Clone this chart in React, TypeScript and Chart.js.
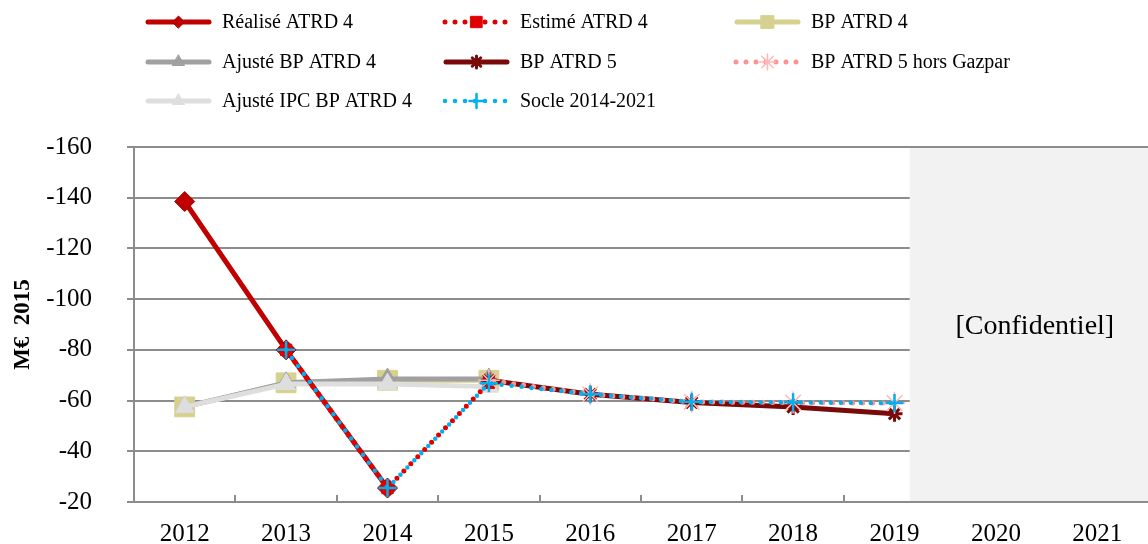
import React, { useEffect, useRef } from 'react';
import { Chart, registerables } from 'chart.js';
import { drawPoint } from 'chart.js/helpers';

Chart.register(...registerables);

const years = ['2012', '2013', '2014', '2015', '2016', '2017', '2018', '2019', '2020', '2021'];

const realiseAtrd4 = [-138.5, -80, -25.5, null, null, null, null, null, null, null];
const estimeAtrd4 = [null, -80, -25.5, -67, null, null, null, null, null, null];
const bpAtrd4 = [-57.5, -67, -68, -68, null, null, null, null, null, null];
const ajusteBpAtrd4 = [-57.5, -67, -68.5, -68.5, null, null, null, null, null, null];
const ajusteIpcBpAtrd4 = [-57.5, -66.5, -66.5, -65.5, null, null, null, null, null, null];
const bpAtrd5 = [null, null, null, -68, -62.5, -59.2, -57.5, -54.8, null, null];
const bpAtrd5HorsGazpar = [null, null, null, -68, -62.5, -59.5, -59.2, -59, null, null];
const socle20142021 = [null, -80, -25.5, -66.8, -62.5, -59.5, -59.3, -59, null, null];

const seriesLabels = [
  'Réalisé ATRD 4',
  'Estimé ATRD 4',
  'BP ATRD 4',
  'Ajusté BP ATRD 4',
  'BP ATRD 5',
  'BP ATRD 5 hors Gazpar',
  'Ajusté IPC BP ATRD 4',
  'Socle 2014-2021',
];

const yMin = -160;
const yMax = -20;
const yStep = 20;
const yAxisTitle = 'M€  2015';
const confidentialText = '[Confidentiel]';
const confidentialFromIndex = 7; // category after which the hidden zone begins

const FONT = "'Liberation Serif', 'Times New Roman', serif";
const GRID = '#8C8C8C';

const legendPlugin = {
  id: 'gridLegend',
  afterDraw(chart: any) {
    const ctx = chart.ctx;
    const colX = [145, 443, 734];
    const rowY = [22, 62, 101];
    const sampleLen = 67;
    chart.data.datasets.forEach((ds: any, i: number) => {
      const col = i % 3;
      const row = Math.floor(i / 3);
      const x = colX[col];
      const y = rowY[row];
      ctx.save();
      ctx.strokeStyle = ds.borderColor;
      ctx.lineWidth = ds.borderWidth;
      ctx.lineCap = 'round';
      ctx.setLineDash(ds.borderDash || []);
      ctx.beginPath();
      if (ds.borderDash && ds.borderDash.length) {
        ctx.moveTo(x + 2, y);
        ctx.lineTo(x + sampleLen, y);
      } else {
        ctx.moveTo(x + 3, y);
        ctx.lineTo(x + sampleLen - 3, y);
      }
      ctx.stroke();
      ctx.setLineDash([]);
      ctx.fillStyle = ds.pointBackgroundColor;
      ctx.strokeStyle = ds.pointBorderColor;
      ctx.lineWidth = ds.pointBorderWidth;
      drawPoint(ctx, {
        pointStyle: ds.pointStyle,
        radius: ds.legendPointRadius,
        rotation: 0,
        borderWidth: ds.pointBorderWidth,
      } as any, x + sampleLen / 2, y);
      ctx.fillStyle = '#000';
      ctx.font = `20px ${FONT}`;
      ctx.textBaseline = 'middle';
      ctx.textAlign = 'left';
      ctx.fillText(ds.label, x + 77, y + 1);
      ctx.restore();
    });
  },
};

const zonePlugin = {
  id: 'zoneAndTicks',
  beforeDatasetsDraw(chart: any) {
    const ctx = chart.ctx;
    const xs = chart.scales.x;
    const area = chart.chartArea;
    const catW = xs.getPixelForValue(1) - xs.getPixelForValue(0);
    ctx.save();
    // inner tick marks between categories
    ctx.strokeStyle = GRID;
    ctx.lineWidth = 2;
    for (let i = 1; i < years.length; i++) {
      const px = Math.round(xs.getPixelForValue(i) - catW / 2);
      ctx.beginPath();
      ctx.moveTo(px, area.bottom - 7);
      ctx.lineTo(px, area.bottom);
      ctx.stroke();
    }
    // hidden zone
    const x0 = xs.getPixelForValue(confidentialFromIndex) + catW * 0.15;
    ctx.fillStyle = '#F2F2F2';
    ctx.fillRect(x0, area.top + 1, area.right - x0, area.bottom - area.top - 2);
    ctx.fillStyle = '#000';
    ctx.font = `28px ${FONT}`;
    ctx.textAlign = 'center';
    ctx.textBaseline = 'middle';
    ctx.fillText(confidentialText, (x0 + area.right) / 2 + 6, (area.top + area.bottom) / 2 + 2);
    ctx.restore();
  },
};

export default function App() {
  const canvasRef = useRef<HTMLCanvasElement | null>(null);

  useEffect(() => {
    if (!canvasRef.current) return;
    const dotted = [0, 10];
    const chart = new Chart(canvasRef.current, {
      type: 'line',
      data: {
        labels: years,
        datasets: [
          {
            label: seriesLabels[0],
            data: realiseAtrd4,
            borderColor: '#C00000',
            borderWidth: 5,
            pointStyle: 'rectRot',
            pointRadius: 10,
            legendPointRadius: 6,
            pointBackgroundColor: '#C00000',
            pointBorderColor: '#A00000',
            pointBorderWidth: 1,
            order: 5,
          },
          {
            label: seriesLabels[1],
            data: estimeAtrd4,
            borderColor: '#E00000',
            borderWidth: 5,
            borderDash: dotted,
            borderDashOffset: 5,
            borderCapStyle: 'round',
            pointStyle: 'rect',
            pointRadius: 8,
            legendPointRadius: 8,
            pointBackgroundColor: '#E00000',
            pointBorderColor: '#E00000',
            pointBorderWidth: 1,
            order: 4,
          },
          {
            label: seriesLabels[2],
            data: bpAtrd4,
            borderColor: '#D6D18E',
            borderWidth: 5,
            pointStyle: 'rect',
            pointRadius: 14,
            legendPointRadius: 9,
            pointBackgroundColor: '#D6D18E',
            pointBorderColor: '#D6D18E',
            pointBorderWidth: 1,
            order: 8,
          },
          {
            label: seriesLabels[3],
            data: ajusteBpAtrd4,
            borderColor: '#A0A0A0',
            borderWidth: 5,
            pointStyle: 'triangle',
            pointRadius: 11,
            legendPointRadius: 7,
            pointBackgroundColor: '#A0A0A0',
            pointBorderColor: '#A0A0A0',
            pointBorderWidth: 1,
            order: 7,
          },
          {
            label: seriesLabels[4],
            data: bpAtrd5,
            borderColor: '#7A0A0A',
            borderWidth: 5,
            pointStyle: 'star',
            pointRadius: 8,
            legendPointRadius: 6,
            pointBackgroundColor: '#7A0A0A',
            pointBorderColor: '#7A0A0A',
            pointBorderWidth: 3,
            order: 3,
          },
          {
            label: seriesLabels[5],
            data: bpAtrd5HorsGazpar,
            borderColor: '#FF9191',
            borderWidth: 5,
            borderDash: dotted,
            borderDashOffset: 5,
            borderCapStyle: 'round',
            pointStyle: 'star',
            pointRadius: 11,
            legendPointRadius: 8,
            pointBackgroundColor: '#FFB8B8',
            pointBorderColor: '#FFB8B8',
            pointBorderWidth: 1.5,
            order: 2,
          },
          {
            label: seriesLabels[6],
            data: ajusteIpcBpAtrd4,
            borderColor: '#DEDEDE',
            borderWidth: 5,
            pointStyle: 'triangle',
            pointRadius: 11,
            legendPointRadius: 7,
            pointBackgroundColor: '#DEDEDE',
            pointBorderColor: '#DEDEDE',
            pointBorderWidth: 1,
            order: 6,
          },
          {
            label: seriesLabels[7],
            data: socle20142021,
            borderColor: '#00B0F0',
            borderWidth: 4.5,
            borderDash: dotted,
            borderCapStyle: 'round',
            pointStyle: 'cross',
            pointRadius: 9,
            legendPointRadius: 7,
            pointBackgroundColor: '#00B0F0',
            pointBorderColor: '#00B0F0',
            pointBorderWidth: 2.5,
            order: 1,
          },
        ] as any,
      },
      options: {
        responsive: false,
        animation: false,
        events: [],
        layout: { autoPadding: false, padding: { top: 147, right: 0, left: 0, bottom: 0 } },
        elements: { line: { tension: 0, borderJoinStyle: 'round' } },
        plugins: {
          legend: { display: false },
          tooltip: { enabled: false },
        },
        scales: {
          x: {
            type: 'category',
            offset: true,
            grid: { display: false },
            border: { display: true, color: GRID, width: 2 },
            ticks: {
              color: '#000',
              font: { family: FONT, size: 25 },
              padding: 9,
              maxRotation: 0,
              autoSkip: false,
            },
            afterFit: (s: any) => {
              s.height = 42;
              s.paddingLeft = 0;
              s.paddingRight = 0;
            },
          },
          y: {
            reverse: true,
            min: yMin,
            max: yMax,
            ticks: {
              stepSize: yStep,
              color: '#000',
              font: { family: FONT, size: 25 },
              padding: 35,
            },
            grid: {
              color: GRID,
              lineWidth: 2,
              tickLength: 7,
              drawTicks: true,
            },
            border: { display: true, color: GRID, width: 2 },
            title: {
              display: true,
              text: yAxisTitle,
              color: '#000',
              font: { family: FONT, size: 23, weight: 'bold' },
              padding: { top: 9, bottom: 0 },
            },
            afterFit: (s: any) => {
              s.width = 134;
              s.paddingTop = 0;
              s.paddingBottom = 0;
            },
          },
        },
      } as any,
      plugins: [zonePlugin, legendPlugin],
    });
    return () => chart.destroy();
  }, []);

  return (
    <div style={{ position: 'fixed', left: 0, top: 0, width: 1148, height: 544, background: '#fff' }}>
      <canvas ref={canvasRef} width={1148} height={544} />
    </div>
  );
}
